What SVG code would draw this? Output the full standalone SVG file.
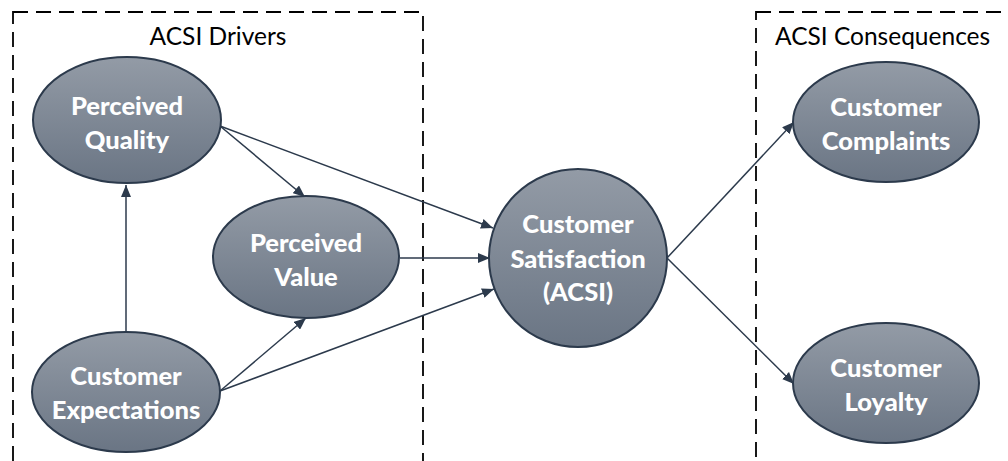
<svg xmlns="http://www.w3.org/2000/svg" width="1008" height="461" viewBox="0 0 1008 461">
<style>
.box{fill:none;stroke:#000;stroke-width:1.8;stroke-dasharray:15 8}
.title{font-family:"Lato","Liberation Sans",sans-serif;font-size:24.5px;fill:#000}
.node{fill:url(#g);stroke:#2c3a4c;stroke-width:2}
.lbl{font-family:"Lato","Liberation Sans",sans-serif;font-weight:900;font-size:25.5px;fill:#fff;text-anchor:middle}
.c{fill:none;stroke:#2c3a4c;stroke-width:1.5;marker-end:url(#ah)}
</style>
<defs>
<linearGradient id="g" x1="0" y1="0" x2="0" y2="1">
<stop offset="0" stop-color="#939ba6"/>
<stop offset="1" stop-color="#6a7584"/>
</linearGradient>
<marker id="ah" viewBox="0 0 12 10" refX="12" refY="5" markerWidth="12" markerHeight="10" markerUnits="userSpaceOnUse" orient="auto">
<path d="M0,0 L12,5 L0,10 Z" fill="#2c3a4c"/>
</marker>
</defs>
<g id="groups">
<rect class="box" x="13" y="12" width="410" height="470"/>
<rect class="box" x="756" y="12" width="270" height="470"/>
<text class="title" x="218" y="45" text-anchor="middle">ACSI Drivers</text>
<text class="title" x="775" y="45">ACSI Consequences</text>
</g>
<g id="connectors">
<line class="c" x1="126" y1="332" x2="126" y2="185"/>
<line class="c" x1="220" y1="126" x2="305" y2="197"/>
<line class="c" x1="220" y1="126" x2="493" y2="228"/>
<line class="c" x1="400" y1="258" x2="490" y2="258"/>
<line class="c" x1="220" y1="391" x2="306" y2="318"/>
<line class="c" x1="220" y1="391" x2="494" y2="289"/>
<line class="c" x1="667" y1="258" x2="794" y2="122"/>
<line class="c" x1="667" y1="258" x2="794" y2="384"/>
</g>
<g id="perceived-quality">
<ellipse class="node" cx="127" cy="120" rx="94" ry="63"/>
<text class="lbl" x="127" y="115">Perceived</text>
<text class="lbl" x="127" y="149">Quality</text>
</g>
<g id="perceived-value">
<ellipse class="node" cx="306" cy="257" rx="93" ry="61"/>
<text class="lbl" x="306" y="252">Perceived</text>
<text class="lbl" x="306" y="286">Value</text>
</g>
<g id="customer-expectations">
<ellipse class="node" cx="126" cy="392" rx="94" ry="60"/>
<text class="lbl" x="126" y="385">Customer</text>
<text class="lbl" x="126" y="419">Expectations</text>
</g>
<g id="customer-satisfaction">
<circle class="node" cx="578" cy="258" r="89"/>
<text class="lbl" x="578" y="233">Customer</text>
<text class="lbl" x="578" y="268">Satisfaction</text>
<text class="lbl" x="578" y="301">(ACSI)</text>
</g>
<g id="customer-complaints">
<ellipse class="node" cx="886" cy="122" rx="93" ry="60"/>
<text class="lbl" x="886" y="116">Customer</text>
<text class="lbl" x="886" y="150">Complaints</text>
</g>
<g id="customer-loyalty">
<ellipse class="node" cx="886" cy="383" rx="93" ry="60"/>
<text class="lbl" x="886" y="377">Customer</text>
<text class="lbl" x="886" y="411">Loyalty</text>
</g>
</svg>
